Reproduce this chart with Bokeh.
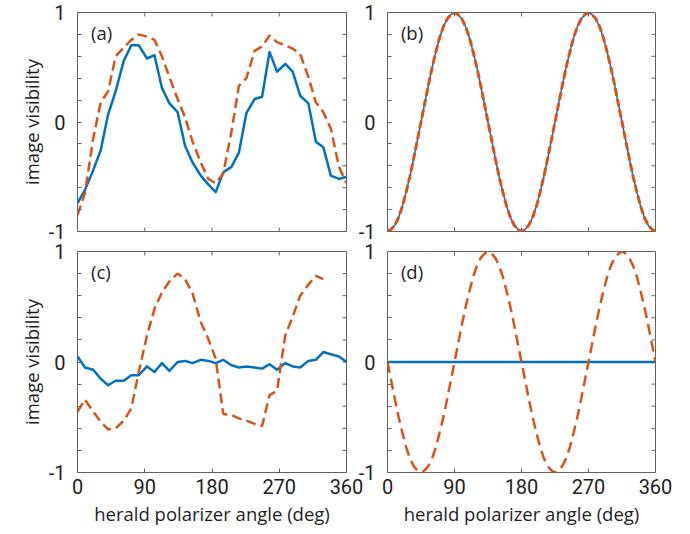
import math
from bokeh.plotting import figure
from bokeh.models import Range1d, FixedTicker, Label
from bokeh.layouts import row, column
from bokeh.embed import file_html
from bokeh.resources import INLINE

# ---------------- data ----------------
x_ticks = [0, 90, 180, 270, 360]
y_ticks = [-1, 0, 1]
y_tick_labels = {-1: "-1", 0: "0", 1: "1"}
y_minor = [-0.8, -0.6, -0.4, -0.2, 0.2, 0.4, 0.6, 0.8]

# measured angles for panels (a) and (c)
ang_meas = [0, 10, 21, 31, 41, 51, 62, 72, 82, 93, 103, 113, 123, 134, 144, 154, 165, 175,
            185, 195, 206, 216, 226, 237, 247, 257, 267, 278, 288, 298, 309, 319, 329, 339, 350, 360]

vis_a_blue = [-0.74, -0.62, -0.44, -0.26, 0.07, 0.28, 0.56, 0.70, 0.70, 0.58, 0.61, 0.31, 0.17, 0.09,
              -0.22, -0.37, -0.49, -0.57, -0.64, -0.46, -0.41, -0.28, 0.08, 0.21, 0.23, 0.64, 0.46,
              0.53, 0.46, 0.24, 0.17, -0.18, -0.23, -0.49, -0.52, -0.50]
vis_a_orange = [-0.85, -0.65, -0.15, 0.18, 0.28, 0.60, 0.68, 0.75, 0.80, 0.78, 0.75, 0.60, 0.41, 0.21,
                0.04, -0.18, -0.37, -0.52, -0.56, -0.47, -0.09, 0.33, 0.40, 0.65, 0.69, 0.79, 0.73,
                0.70, 0.67, 0.62, 0.41, 0.18, 0.09, -0.06, -0.41, -0.56]

vis_c_blue = [0.05, -0.05, -0.07, -0.15, -0.21, -0.17, -0.17, -0.12, -0.12, -0.04, -0.09, -0.01,
              -0.08, 0.00, 0.01, -0.01, 0.02, 0.01, -0.01, 0.02, -0.03, -0.05, -0.04, -0.05, -0.06,
              -0.02, -0.07, -0.01, -0.04, -0.05, 0.01, 0.02, 0.09, 0.07, 0.05, 0.00]
vis_c_orange = [-0.45, -0.34, -0.45, -0.54, -0.61, -0.60, -0.53, -0.42, -0.09, 0.24, 0.48, 0.63,
                0.73, 0.80, 0.75, 0.62, 0.36, 0.21, 0.03, -0.47, -0.48, -0.51, -0.53, -0.56, -0.58,
                -0.30, -0.26, 0.24, 0.41, 0.60, 0.70, 0.78, 0.75]

# theory angles for panels (b) and (d), every 5 degrees
ang_theory = list(range(0, 361, 5))

vis_b = [-1, -0.98, -0.94, -0.87, -0.77, -0.64, -0.5, -0.34, -0.17, 0, 0.17, 0.34, 0.5, 0.64, 0.77, 0.87, 0.94, 0.98, 1,
         0.98, 0.94, 0.87, 0.77, 0.64, 0.5, 0.34, 0.17, 0, -0.17, -0.34, -0.5, -0.64, -0.77, -0.87, -0.94, -0.98, -1,
         -0.98, -0.94, -0.87, -0.77, -0.64, -0.5, -0.34, -0.17, 0, 0.17, 0.34, 0.5, 0.64, 0.77, 0.87, 0.94, 0.98, 1,
         0.98, 0.94, 0.87, 0.77, 0.64, 0.5, 0.34, 0.17, 0, -0.17, -0.34, -0.5, -0.64, -0.77, -0.87, -0.94, -0.98, -1]

vis_d_orange = [0, -0.17, -0.34, -0.5, -0.64, -0.77, -0.87, -0.94, -0.98, -1,
                -0.98, -0.94, -0.87, -0.77, -0.64, -0.5, -0.34, -0.17, 0,
                0.17, 0.34, 0.5, 0.64, 0.77, 0.87, 0.94, 0.98, 1,
                0.98, 0.94, 0.87, 0.77, 0.64, 0.5, 0.34, 0.17, 0,
                -0.17, -0.34, -0.5, -0.64, -0.77, -0.87, -0.94, -0.98, -1,
                -0.98, -0.94, -0.87, -0.77, -0.64, -0.5, -0.34, -0.17, 0,
                0.17, 0.34, 0.5, 0.64, 0.77, 0.87, 0.94, 0.98, 1,
                0.98, 0.94, 0.87, 0.77, 0.64, 0.5, 0.34, 0.17, 0]
vis_d_blue = [0.0] * len(ang_theory)

# ---------------- style ----------------
FONT = "Open Sans"
TICK_FONT = "Roboto"
BLUE = "#0072BD"
ORANGE = "#D95319"
AX = "#606060"
TXT = "#1e1e1e"
TICK_FS = "20px"
LAB_FS = "18.5px"
X0, X1, Y0, Y1 = 0, 360, -1, 1


def style_axis(ax):
    ax.axis_line_color = None
    ax.major_tick_line_color = AX
    ax.major_tick_in = 4
    ax.major_tick_out = 0
    ax.minor_tick_line_color = AX
    ax.minor_tick_in = 4
    ax.minor_tick_out = 0
    ax.major_label_text_font = TICK_FONT
    ax.major_label_text_color = TXT
    ax.major_label_text_font_size = TICK_FS
    ax.axis_label_text_font = FONT
    ax.axis_label_text_font_size = LAB_FS
    ax.axis_label_text_font_style = "normal"
    ax.axis_label_text_color = TXT


def mirror_ticks(p, bottom_too):
    # inward ticks on the top / right (and optionally bottom) edges of the box
    inner_x = [t for t in x_ticks if X0 < t < X1]
    edges_y = [Y1] + ([Y0] if bottom_too else [])
    xs = [t for _ in edges_y for t in inner_x]
    ys = [e for e in edges_y for _ in inner_x]
    p.scatter(xs, ys, marker="dash", size=8, angle=math.pi / 2,
              line_color=AX, line_width=1)
    yv = [t for t in y_ticks + y_minor if Y0 < t < Y1]
    p.scatter([X1] * len(yv), yv, marker="dash", size=8,
              line_color=AX, line_width=1)


def panel(letter, fw, fh, borders, bottom_row, ylabel, margin):
    p = figure(frame_width=fw, frame_height=fh, x_range=Range1d(X0, X1), y_range=Range1d(Y0, Y1),
               output_backend="svg", toolbar_location=None,
               min_border_left=borders[0], min_border_right=borders[1],
               min_border_top=borders[2], min_border_bottom=borders[3],
               margin=margin)
    p.grid.visible = False
    p.outline_line_color = AX
    p.outline_line_width = 1
    p.background_fill_color = "white"
    p.border_fill_color = None
    bx = p.below[0]
    ly = p.left[0]
    bx.ticker = FixedTicker(ticks=x_ticks)
    ly.ticker = FixedTicker(ticks=y_ticks, minor_ticks=y_minor)
    ly.major_label_overrides = y_tick_labels
    style_axis(bx)
    style_axis(ly)
    ly.major_label_standoff = 12
    if bottom_row:
        bx.major_label_standoff = 6
        bx.axis_label = "herald polarizer angle (deg)"
        bx.axis_label_standoff = 4
    else:
        bx.visible = False
    if ylabel:
        ly.axis_label = "image visibility"
        ly.axis_label_standoff = 2
    mirror_ticks(p, not bottom_row)
    p.add_layout(Label(x=18, y=0.82, text=letter, text_font=FONT, text_font_size=LAB_FS,
                       text_color=TXT, text_baseline="middle", text_align="left"))
    return p


# frames: col1 x 77..346, col2 x 387..655; row1 y 12..231, row2 y 251..472
pa = panel("(a)", 269, 219, (77, 20, 12, 20), False, True, (0, 0, 0, 0))
pb = panel("(b)", 268, 219, (40, 20, 12, 20), False, False, (0, 0, 0, -19))
pc = panel("(c)", 269, 221, (77, 20, 24, 60), True, True, (0, 0, 0, 0))
pd = panel("(d)", 268, 221, (40, 20, 24, 60), True, False, (0, 0, 0, -19))

pa.line(ang_meas, vis_a_blue, line_color=BLUE, line_width=2.5, line_join="round")
pa.line(ang_meas, vis_a_orange, line_color=ORANGE, line_width=2.5, line_dash="10 5")

pb.line(ang_theory, vis_b, line_color=BLUE, line_width=1.5)
pb.line(ang_theory, vis_b, line_color=ORANGE, line_width=3, line_dash="8 3")

pc.line(ang_meas, vis_c_blue, line_color=BLUE, line_width=2.5, line_join="round")
pc.line(ang_meas[:len(vis_c_orange)], vis_c_orange, line_color=ORANGE, line_width=2.5, line_dash="10 5")

pd.line(ang_theory, vis_d_blue, line_color=BLUE, line_width=2.5)
pd.line(ang_theory, vis_d_orange, line_color=ORANGE, line_width=2.5, line_dash="11 6")

top_row = row(pa, pb)
bottom_row = row(pc, pd, margin=(-24, 0, 0, 0))
layout = column(top_row, bottom_row)
open("out.html", "w").write(file_html(layout, INLINE))
